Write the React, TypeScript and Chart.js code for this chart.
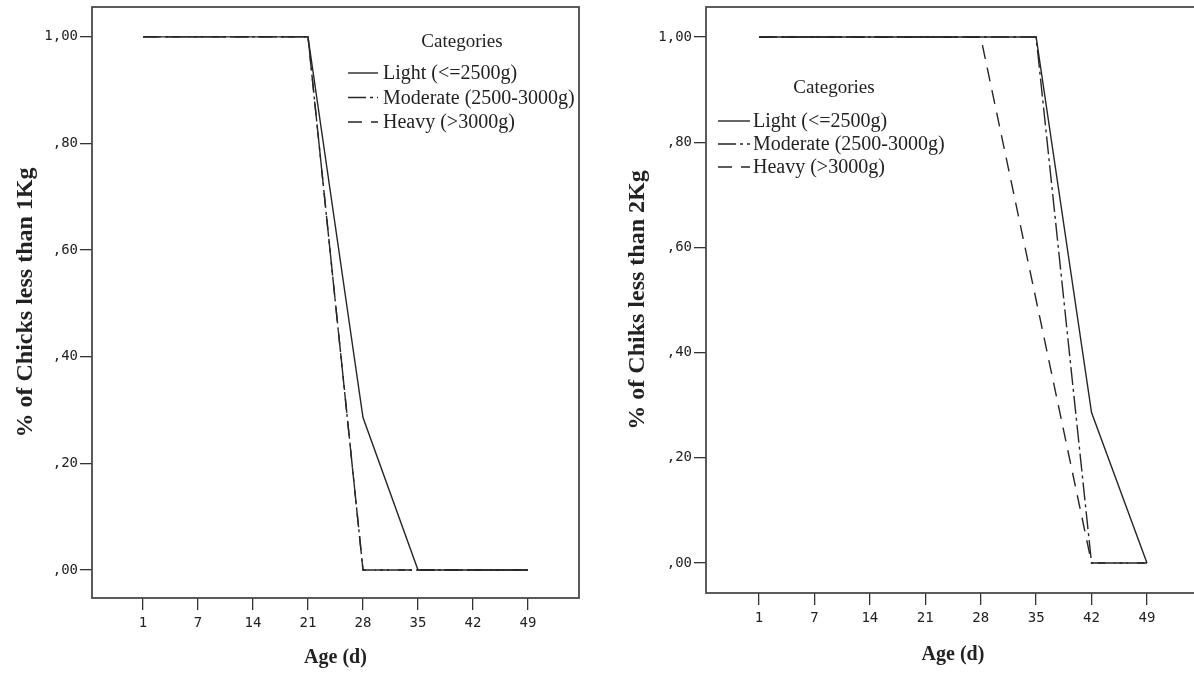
import React, { useEffect, useRef } from "react";
import { Chart, registerables } from "chart.js";

Chart.register(...registerables);

// ---- data ----
const ageLabels = ["1", "7", "14", "21", "28", "35", "42", "49"];
const yTickValues = [0, 0.2, 0.4, 0.6, 0.8, 1.0];
const yTickLabels = [",00", ",20", ",40", ",60", ",80", "1,00"];
const seriesNames = ["Light (<=2500g)", "Moderate (2500-3000g)", "Heavy (>3000g)"];
const legendTitle = "Categories";
const xTitle = "Age (d)";
const yTitleLeft = "% of Chicks less than 1Kg";
const yTitleRight = "% of Chiks less than 2Kg";

const light1Kg = [1, 1, 1, 1, 0.286, 0, 0, 0];
const moderate1Kg = [1, 1, 1, 1, 0, 0, 0, 0];
const heavy1Kg = [1, 1, 1, 1, 0, 0, 0, 0];

const light2Kg = [1, 1, 1, 1, 1, 1, 0.286, 0];
const moderate2Kg = [1, 1, 1, 1, 1, 1, 0, 0];
const heavy2Kg = [1, 1, 1, 1, 1, 0.5, 0, 0];

// ---- styles ----
const LINE = "#262626";
const dashes = [[], [18, 4, 3, 4], [14, 9]];

const framePlugin = {
  id: "frameBox",
  afterDraw(chart: any) {
    const { ctx, chartArea: a } = chart;
    ctx.save();
    ctx.strokeStyle = "#4a4a4a";
    ctx.lineWidth = 1.8;
    ctx.strokeRect(a.left, a.top, a.right - a.left, a.bottom - a.top);
    ctx.restore();
  },
};

const legendPlugin = {
  id: "categoryLegend",
  afterDraw(chart: any, _args: any, opts: any) {
    const { ctx } = chart;
    ctx.save();
    ctx.fillStyle = "#222";
    ctx.font = "19px 'Liberation Serif', serif";
    ctx.textBaseline = "middle";
    ctx.textAlign = "center";
    ctx.fillText(opts.title, opts.titleX, opts.titleY);
    chart.data.datasets.forEach((ds: any, i: number) => {
      const y = opts.rowY + i * opts.rowGap;
      ctx.strokeStyle = ds.borderColor;
      ctx.lineWidth = ds.borderWidth;
      ctx.setLineDash(ds.borderDash || []);
      ctx.beginPath();
      ctx.moveTo(opts.sampleX, y);
      ctx.lineTo(opts.sampleX + opts.sampleW, y);
      ctx.stroke();
      ctx.setLineDash([]);
      ctx.textAlign = "left";
      ctx.font = "20px 'Liberation Serif', serif";
      ctx.fillText(ds.label, opts.sampleX + opts.sampleW + opts.gap, y + 1);
    });
    ctx.restore();
  },
};

function makeConfig(p: any) {
  const series = [p.light, p.moderate, p.heavy];
  return {
    type: "line",
    data: {
      datasets: series.map((vals: number[], si: number) => ({
        label: seriesNames[si],
        data: vals.map((v, i) => ({ x: i, y: v })),
        borderColor: LINE,
        borderWidth: 1.4,
        borderDash: dashes[si],
        pointRadius: 0,
        tension: 0,
        fill: false,
      })),
    },
    options: {
      responsive: false,
      animation: false,
      devicePixelRatio: 1,
      layout: { padding: { top: p.padTop, right: p.padRight, left: 0, bottom: 0 } },
      plugins: {
        legend: { display: false },
        tooltip: { enabled: false },
        categoryLegend: p.legend,
      },
      scales: {
        x: {
          type: "linear",
          min: p.xMin,
          max: p.xMax,
          afterFit: (s: any) => {
            s.height = p.xAxisHeight;
            s.paddingLeft = 0;
            s.paddingRight = 0;
          },
          afterBuildTicks: (s: any) => {
            s.ticks = ageLabels.map((_, i) => ({ value: i }));
          },
          ticks: {
            callback: (v: number) => ageLabels[v],
            font: { family: "'DejaVu Sans Mono', monospace", size: 14 },
            color: "#222",
            padding: 5,
            maxRotation: 0,
          },
          grid: {
            drawOnChartArea: false,
            drawTicks: true,
            tickLength: 12,
            color: "#333",
            lineWidth: 1.3,
          },
          border: { display: false },
          title: {
            display: true,
            text: xTitle,
            font: { family: "'Liberation Serif', serif", size: 20, weight: "bold" },
            color: "#222",
            padding: { top: 0, bottom: p.xTitlePad },
          },
        },
        y: {
          type: "linear",
          min: p.yMin,
          max: p.yMax,
          afterFit: (s: any) => {
            s.width = p.yAxisWidth;
            s.paddingTop = 0;
            s.paddingBottom = 0;
          },
          afterBuildTicks: (s: any) => {
            s.ticks = yTickValues.map((v) => ({ value: v }));
          },
          ticks: {
            callback: (v: number) => yTickLabels[yTickValues.indexOf(v)],
            font: { family: "'DejaVu Sans Mono', monospace", size: 14 },
            color: "#222",
            padding: 2,
          },
          grid: {
            drawOnChartArea: false,
            drawTicks: true,
            tickLength: 12,
            color: "#333",
            lineWidth: 1.3,
          },
          border: { display: false },
          title: {
            display: true,
            text: p.yTitle,
            font: { family: "'Liberation Serif', serif", size: 24, weight: "bold" },
            color: "#222",
            padding: { top: p.yTitlePad, bottom: 0 },
          },
        },
      },
    },
    plugins: [framePlugin, legendPlugin],
  } as any;
}

const leftPanel = {
  light: light1Kg,
  moderate: moderate1Kg,
  heavy: heavy1Kg,
  yTitle: yTitleLeft,
  xMin: -0.927,
  xMax: 7.927,
  yMin: -0.0525,
  yMax: 1.056,
  padTop: 7,
  padRight: 21,
  yAxisWidth: 92,
  xAxisHeight: 75,
  xTitlePad: 3,
  yTitlePad: 11,
  legend: { title: legendTitle, titleX: 462, titleY: 42, sampleX: 348, sampleW: 30, gap: 5, rowY: 73, rowGap: 24.5 },
};

const rightPanel = {
  light: light2Kg,
  moderate: moderate2Kg,
  heavy: heavy2Kg,
  yTitle: yTitleRight,
  xMin: -0.957,
  xMax: 7.957,
  yMin: -0.057,
  yMax: 1.057,
  padTop: 7,
  padRight: 0,
  yAxisWidth: 106,
  xAxisHeight: 80,
  xTitlePad: 6,
  yTitlePad: 23.5,
  legend: { title: legendTitle, titleX: 234, titleY: 88, sampleX: 118, sampleW: 32, gap: 3, rowY: 121, rowGap: 23 },
};

export default function App() {
  const leftRef = useRef<HTMLCanvasElement>(null);
  const rightRef = useRef<HTMLCanvasElement>(null);

  useEffect(() => {
    const c1 = new Chart(leftRef.current as HTMLCanvasElement, makeConfig(leftPanel));
    const c2 = new Chart(rightRef.current as HTMLCanvasElement, makeConfig(rightPanel));
    return () => {
      c1.destroy();
      c2.destroy();
    };
  }, []);

  return (
    <div
      style={{
        position: "fixed",
        left: 0,
        top: 0,
        width: 1194,
        height: 673,
        overflow: "hidden",
        background: "#fff",
      }}
    >
      <canvas
        ref={leftRef}
        width={600}
        height={673}
        style={{ position: "absolute", left: 0, top: 0, width: 600, height: 673 }}
      />
      <canvas
        ref={rightRef}
        width={600}
        height={673}
        style={{ position: "absolute", left: 600, top: 0, width: 600, height: 673 }}
      />
    </div>
  );
}
